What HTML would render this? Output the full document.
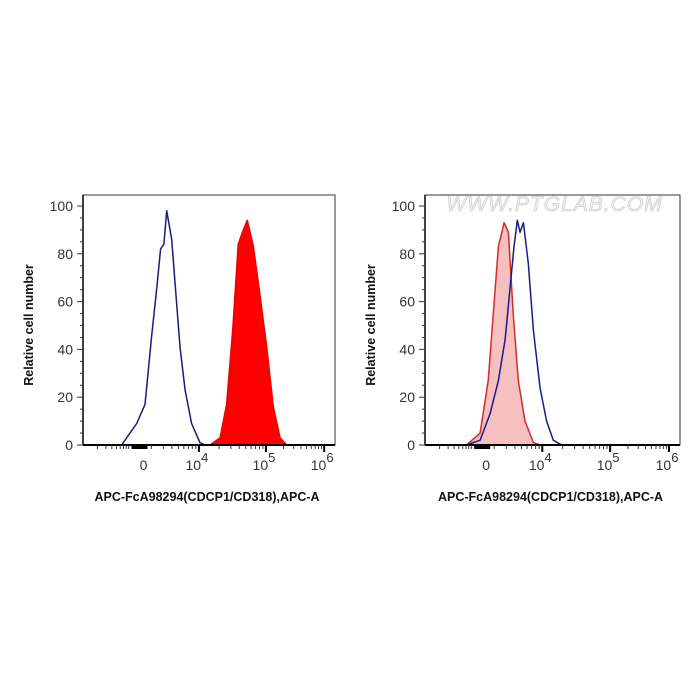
<!DOCTYPE html>
<html><head><meta charset="utf-8">
<style>
html,body{margin:0;padding:0;background:#fff;}
svg{display:block;font-family:"Liberation Sans",sans-serif;}
</style></head>
<body>
<svg id="chart" width="700" height="700" viewBox="0 0 700 700"></svg>
<script>
// x in display units 0..1000 across the frame (biexponential display), y in relative cell number
const yTicks = [0, 20, 40, 60, 80, 100];
const xTickUnits = [240, 460, 726, 957];
const xTickLabels = ["0", "10|4", "10|5", "10|6"];
const leftBlueX = [153, 213, 246, 272, 292, 308, 321, 332, 352, 365, 385, 405, 431, 464, 484];
const leftBlueY = [0, 9, 17, 45, 65, 82, 84, 98, 86, 68, 41, 23, 9, 1, 0];
const leftRedX = [504, 544, 570, 594, 616, 636, 652, 676, 702, 729, 755, 782, 808];
const leftRedY = [0, 3, 17, 48, 84, 90, 94, 83, 63, 41, 16, 3, 0];
const rightRedX = [163, 216, 248, 268, 288, 310, 327, 346, 366, 392, 425, 451];
const rightRedY = [0, 5, 27, 55, 83, 93, 89, 55, 27, 10, 1, 0];
const rightBlueX = [163, 216, 255, 288, 314, 333, 349, 362, 373, 386, 405, 425, 451, 477, 503, 536];
const rightBlueY = [0, 2, 13, 27, 44, 65, 83, 94, 89, 93, 76, 48, 24, 10, 2, 0];

const NS = "http://www.w3.org/2000/svg";
const svg = document.getElementById("chart");
function mk(tag, attrs, parent) {
  const e = document.createElementNS(NS, tag);
  for (const k in attrs) e.setAttribute(k, attrs[k]);
  (parent || svg).appendChild(e);
  return e;
}

function panel(px, name, series, watermark) {
  const L = px.left, R = px.right, T = 195, B = 445;
  const y0 = 445, y100 = 206;
  const g = mk("g", {});
  
  
  const xs = u => L + (u / 1000) * (R - L);
  const ys = v => y0 - (v / 100) * (y0 - y100);

  if (watermark) {
    const w = mk("text", {x: (L + R) / 2 + 2, y: 211, "text-anchor": "middle", "font-size": 21, fill: "#f6f6f6", stroke: "#cfcfcf", "stroke-width": 0.8, "letter-spacing": 1, "font-style": "italic"}, g);
    
    
    w.textContent = "WWW.PTGLAB.COM";
  }

  series.forEach(s => {
    let d = "M" + xs(s.x[0]) + "," + ys(0);
    for (let i = 0; i < s.x.length; i++) d += " L" + xs(s.x[i]).toFixed(1) + "," + ys(s.y[i]).toFixed(1);
    d += " L" + xs(s.x[s.x.length - 1]) + "," + ys(0);
    const p = mk("path", {d: s.fill === "none" ? d : d + " Z", fill: s.fill, stroke: s.stroke, "stroke-width": 1.5, "stroke-linejoin": "round"}, g);
    
    
  });

  const frame = mk("rect", {x: L, y: T, width: R - L, height: B - T, fill: "none", stroke: "#333", "stroke-width": 1}, g);
  
  
  mk("line", {x1: L, x2: R, y1: B, y2: B, stroke: "#000", "stroke-width": 2}, g);
  mk("line", {x1: L, x2: L, y1: T, y2: B, stroke: "#000", "stroke-width": 1.5}, g);

  for (let v = 0; v <= 100; v += 5) {
    const major = v % 20 === 0;
    mk("line", {x1: L - (major ? 6 : 3), x2: L, y1: ys(v), y2: ys(v), stroke: "#333", "stroke-width": 1}, g);
  }
  yTicks.forEach(v => {
    const t = mk("text", {x: L - 10, y: ys(v) + 5, "text-anchor": "end", "font-size": 14, fill: "#333"}, g);
    
    
    t.textContent = v;
  });
  // x minor ticks (log-style groups)
  const decs = [[0, xTickUnits[0] - 50], [xTickUnits[1] - 270, xTickUnits[1]], [xTickUnits[1], xTickUnits[2]], [xTickUnits[2], xTickUnits[3]]];
  decs.forEach(([a, b]) => {
    for (let k = 2; k <= 9; k++) {
      const u = a + (b - a) * Math.log10(k);
      mk("line", {x1: xs(u), x2: xs(u), y1: B, y2: B + 4, stroke: "#333", "stroke-width": 1}, g);
    }
  });
  mk("rect", {x: xs(xTickUnits[0]) - 12, y: B, width: 16, height: 4, fill: "#000"}, g);
  xTickUnits.forEach((u, i) => {
    if (i > 0) mk("line", {x1: xs(u), x2: xs(u), y1: B, y2: B + 7, stroke: "#000", "stroke-width": 2}, g);
    const parts = xTickLabels[i].split("|");
    const t = mk("text", {x: xs(u) + (parts.length > 1 ? -2 : 0), y: B + 25, "text-anchor": "middle", "font-size": 14, fill: "#333"}, g);
    
    
    t.textContent = parts[0];
    if (parts.length > 1) {
      const sp = mk("tspan", {dy: -8, "font-size": 13}, t);
      sp.textContent = parts[1];
    }
  });

  const xt = mk("text", {x: (L + R) / 2 - 2, y: 501, "text-anchor": "middle", "font-size": 12.5, "font-weight": "bold", fill: "#111"}, g);
  
  
  xt.textContent = "APC-FcA98294(CDCP1/CD318),APC-A";
  const yx = L - 50, yy = (T + B) / 2 + 5;
  const yt = mk("text", {x: yx, y: yy, "text-anchor": "middle", "font-size": 12.5, "font-weight": "bold", fill: "#111", transform: `rotate(-90 ${yx} ${yy})`}, g);
  
  
  yt.textContent = "Relative cell number";
}

panel({left: 83, right: 335}, "left-histogram", [
  {x: leftRedX, y: leftRedY, fill: "#ff0000", stroke: "#ee0000", name: "cdcp1-stained-series"},
  {x: leftBlueX, y: leftBlueY, fill: "none", stroke: "#1a1a7a", name: "isotype-control-series"}
], false);
panel({left: 425, right: 680}, "right-histogram", [
  {x: rightRedX, y: rightRedY, fill: "#f7c0c0", stroke: "#d42a2a", name: "control-series"},
  {x: rightBlueX, y: rightBlueY, fill: "none", stroke: "#1a1a8a", name: "stained-series"}
], true);
</script>
</body></html>
